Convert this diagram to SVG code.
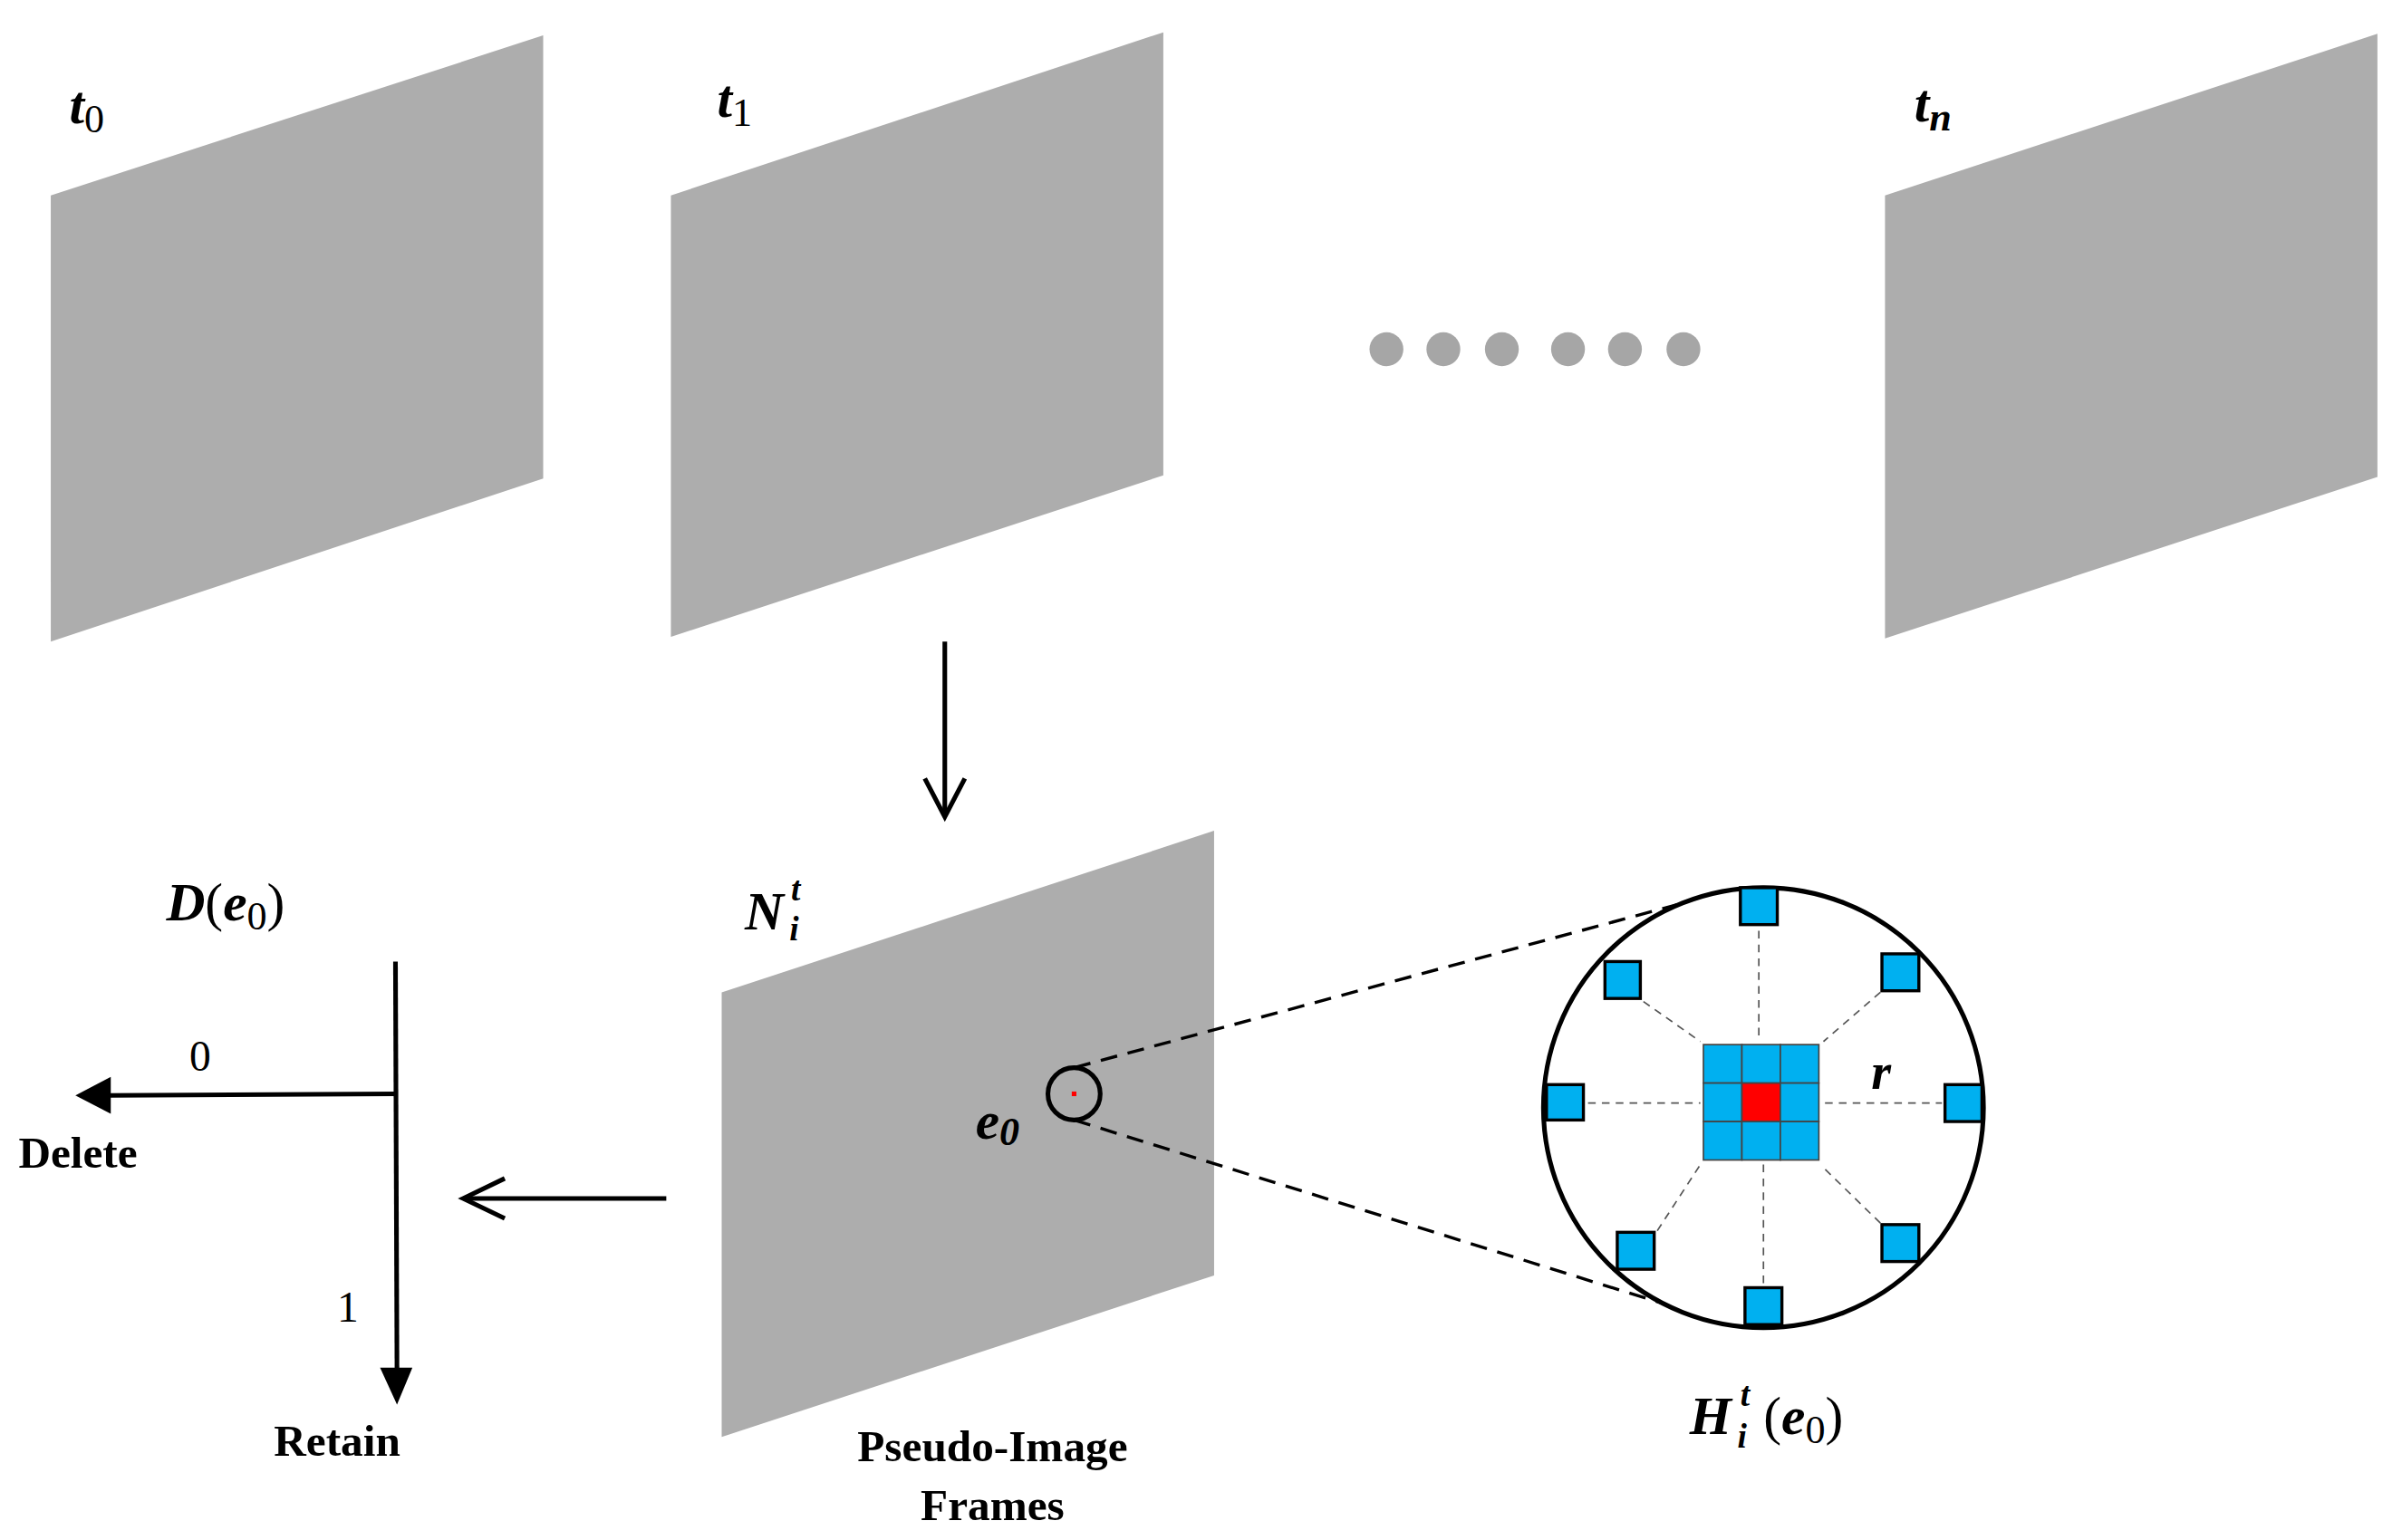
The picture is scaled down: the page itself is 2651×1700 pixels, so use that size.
<svg xmlns="http://www.w3.org/2000/svg" width="2651" height="1700" viewBox="0 0 2651 1700">
<style>
.fr{fill:#adadad}
.dot{fill:#a6a6a6}
text{font-family:"Liberation Serif",serif;fill:#000}
.bi{font-weight:bold;font-style:italic}
.b{font-weight:bold}
.ln{stroke:#000;stroke-width:3;fill:none}
.dl{stroke:#000;stroke-width:2;stroke-dasharray:11 7;fill:none}
.gd{stroke:#555;stroke-width:1;stroke-dasharray:5 4;fill:none}
.sq{fill:#00b0f0;stroke:#000;stroke-width:2}
.cell{fill:#00b0f0;stroke:#444;stroke-width:1}
</style>
<rect width="2651" height="1700" fill="#fff"/>
<g transform="scale(1.6983)">
<g id="frame-t0"><polygon class="fr" points="33,127 353,23 353,311 33,417"/><text x="45" y="80" font-size="35" class="bi">t<tspan font-size="26" font-weight="normal" font-style="normal" dy="6">0</tspan></text></g>
<g id="frame-t1"><polygon class="fr" points="436,127 756,21 756,309 436,414"/><text x="466" y="76" font-size="35" class="bi">t<tspan font-size="26" font-weight="normal" font-style="normal" dy="6">1</tspan></text></g>
<g id="dots"><circle class="dot" cx="901" cy="227" r="11"/><circle class="dot" cx="938" cy="227" r="11"/><circle class="dot" cx="976" cy="227" r="11"/><circle class="dot" cx="1019" cy="227" r="11"/><circle class="dot" cx="1056" cy="227" r="11"/><circle class="dot" cx="1094" cy="227" r="11"/></g>
<g id="frame-tn"><polygon class="fr" points="1225,127 1545,22 1545,310 1225,415"/><text x="1244" y="79" font-size="35" class="bi">t<tspan font-size="26" dy="6">n</tspan></text></g>
<g id="frame-N"><polygon class="fr" points="469,645 789,540 789,829 469,934"/>
<text x="484" y="604" font-size="35" class="bi">N</text><text x="514" y="585" font-size="22" class="bi">t</text><text x="513" y="611" font-size="22" class="bi">i</text>
<text x="634" y="740" font-size="35" class="bi">e<tspan font-size="26" dy="4">0</tspan></text>
<circle cx="698" cy="711" r="17" class="ln" stroke-width="2"/><rect x="696.5" y="709.5" width="3" height="3" fill="#f00"/>
<text x="645" y="950" font-size="29" class="b" text-anchor="middle">Pseudo-Image</text><text x="645" y="988" font-size="29" class="b" text-anchor="middle">Frames</text></g>
<g id="zoom">
<ellipse cx="1146" cy="720" rx="143" ry="143" class="ln"/>
<g class="gd"><line x1="1143" y1="605" x2="1143" y2="677"/><line x1="1146" y1="757" x2="1146" y2="835"/><line x1="1032" y1="717" x2="1105" y2="717"/><line x1="1186" y1="717" x2="1262" y2="717"/><line x1="1068" y1="651" x2="1105" y2="677"/><line x1="1222" y1="645" x2="1185" y2="677"/><line x1="1077" y1="800" x2="1105" y2="757"/><line x1="1222" y1="795" x2="1185" y2="759"/></g>
<g>
<rect class="cell" x="1107" y="679" width="25" height="25"/><rect class="cell" x="1132" y="679" width="25" height="25"/><rect class="cell" x="1157" y="679" width="25" height="25"/>
<rect class="cell" x="1107" y="704" width="25" height="25"/><rect x="1132" y="704" width="25" height="25" fill="#f00" stroke="#444"/><rect class="cell" x="1157" y="704" width="25" height="25"/>
<rect class="cell" x="1107" y="729" width="25" height="25"/><rect class="cell" x="1132" y="729" width="25" height="25"/><rect class="cell" x="1157" y="729" width="25" height="25"/>
</g>
<rect class="sq" x="1131" y="577" width="24" height="24"/><rect class="sq" x="1134" y="837" width="24" height="24"/><rect class="sq" x="1005" y="705" width="24" height="23"/><rect class="sq" x="1264" y="705" width="24" height="24"/><rect class="sq" x="1043" y="625" width="23" height="24"/><rect class="sq" x="1223" y="620" width="24" height="24"/><rect class="sq" x="1051" y="801" width="24" height="24"/><rect class="sq" x="1223" y="796" width="24" height="24"/>
<text x="1216" y="708" font-size="33" class="bi">r</text>
<text x="1098" y="932" font-size="35" class="bi">H</text><text x="1131" y="914" font-size="22" class="bi">t</text><text x="1129" y="941" font-size="22" class="bi">i</text><text x="1146" y="932" font-size="35">(<tspan class="bi">e</tspan><tspan font-size="26" dy="6">0</tspan><tspan dy="-6">)</tspan></text>
</g>
<g id="decision">
<text x="108" y="598" font-size="35"><tspan class="bi">D</tspan>(<tspan class="bi">e</tspan><tspan font-size="26" dy="6">0</tspan><tspan dy="-6">)</tspan></text>
<text x="130" y="696" font-size="28" text-anchor="middle">0</text>
<text x="226" y="859" font-size="28" text-anchor="middle">1</text>
<text x="12" y="759" font-size="29" class="b">Delete</text>
<text x="178" y="946" font-size="29" class="b">Retain</text>
</g>
<g id="connectors">
<line class="ln" x1="614" y1="417" x2="614" y2="530"/><polyline class="ln" points="601,506 614,531 627,506"/>
<line class="ln" x1="433" y1="779" x2="302" y2="779"/><polyline class="ln" points="328,766 301,779 328,792"/>
<line class="ln" x1="257" y1="625" x2="258" y2="895"/><polygon points="247,889 268,889 258,913" fill="#000"/>
<line class="ln" x1="257" y1="711" x2="70" y2="712"/><polygon points="72,700 72,724 49,712" fill="#000"/>
<line class="dl" x1="698" y1="694" x2="1090" y2="588"/><line class="dl" x1="698" y1="728" x2="1083" y2="848"/>
</g>
</g>
</svg>
